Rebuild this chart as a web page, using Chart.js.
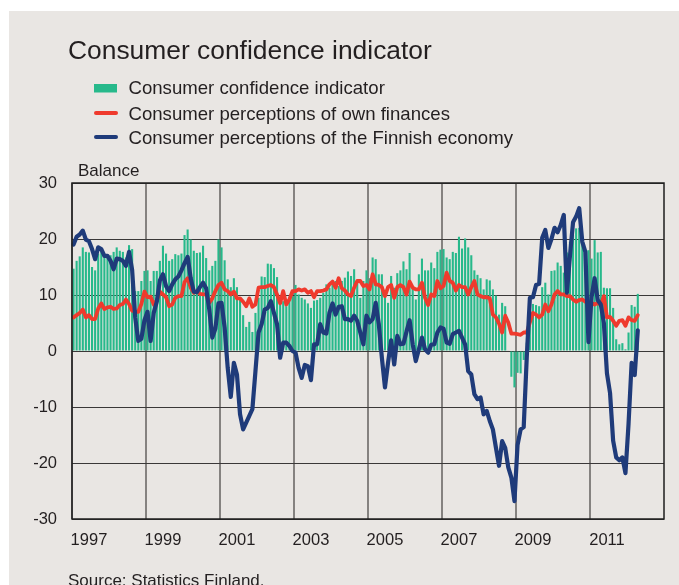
<!DOCTYPE html>
<html><head><meta charset="utf-8">
<script src="https://cdn.jsdelivr.net/npm/chart.js@4.4.1/dist/chart.umd.min.js"></script>
<style>html,body{margin:0;padding:0;background:#fff;}canvas{display:block;}</style>
</head><body>
<canvas id="c" width="679" height="585"></canvas>
<script>
// ---- text ----
const titleText = 'Consumer confidence indicator';
const seriesNames = ['Consumer confidence indicator', 'Consumer perceptions of own finances', 'Consumer perceptions of the Finnish economy'];
const yAxisTitle = 'Balance';
const sourceText = 'Source: Statistics Finland.';

// ---- categories (monthly, Jan 1997 - Dec 2012) ----
const years = [1997,1998,1999,2000,2001,2002,2003,2004,2005,2006,2007,2008,2009,2010,2011,2012];
const monthsPerYear = 12;
const xTickLabels = ['1997','1999','2001','2003','2005','2007','2009','2011'];
const yTicks = [-30,-20,-10,0,10,20,30];

// ---- series (monthly values from Jan 1997) ----
const cci = [
14.7,16.1,16.9,18.5,17.7,17.6,15.0,14.4,17.4,17.9,16.7,16.8,
17.1,17.7,18.5,17.9,17.7,16.7,18.9,18.2,10.7,10.7,12.5,14.3,
14.4,12.5,14.3,14.3,16.1,18.8,17.4,16.1,16.4,17.3,17.1,17.4,
20.7,21.7,19.9,17.9,17.5,17.6,18.8,16.6,14.4,15.2,16.1,19.9,
18.5,16.2,12.8,11.4,13.0,11.4,9.2,6.4,4.3,5.2,3.4,6.8,
9.5,13.3,13.2,15.6,15.5,14.8,13.2,9.5,8.9,8.0,9.2,9.8,
11.8,10.1,9.5,9.2,8.5,7.7,9.0,9.1,9.5,10.4,11.9,11.3,
12.5,12.5,11.6,12.5,13.1,14.2,13.4,14.6,12.7,9.5,12.5,14.4,
13.0,16.7,16.4,13.7,13.7,9.8,8.6,13.4,11.3,13.9,14.4,16.0,
14.6,17.5,11.3,9.2,13.7,16.5,14.4,14.4,15.8,14.8,17.7,18.1,
18.2,16.7,16.4,17.7,17.5,20.4,18.3,20.1,18.5,17.1,14.4,13.6,
13.0,11.0,12.8,12.6,11.0,9.9,6.5,8.6,8.0,0.1,-4.6,-6.5,
-3.9,-4.0,-1.6,1.5,5.0,8.4,8.2,8.0,11.4,12.2,10.1,14.3,
14.4,15.8,15.2,14.0,17.6,19.5,20.8,21.9,22.0,19.6,17.4,18.0,
16.5,19.8,17.6,17.7,11.3,11.2,11.2,7.7,2.1,1.2,1.4,0.3,
3.3,8.2,7.9,10.2];
const ownFinances = [
6.0,6.4,6.8,7.4,6.0,6.4,5.7,5.7,7.6,8.5,7.5,7.8,
7.9,7.5,7.6,8.2,8.4,9.2,8.4,7.2,7.0,7.0,8.4,10.6,
9.6,9.7,8.3,9.0,10.6,10.1,9.6,8.0,8.3,9.5,9.8,9.8,
12.3,13.0,11.3,10.4,10.7,10.2,10.1,10.1,8.6,9.4,10.7,11.8,
12.2,11.0,10.7,10.1,10.6,9.4,9.4,8.8,8.0,9.4,7.9,8.3,
11.3,11.4,11.4,11.6,11.8,11.4,10.1,8.5,10.7,8.3,9.2,10.7,
10.7,11.0,10.8,11.0,10.4,10.7,9.6,10.7,10.7,10.8,11.0,11.9,
12.4,11.3,13.0,11.2,10.8,10.1,9.8,11.3,12.5,12.5,11.6,11.8,
11.0,13.7,11.9,11.8,11.4,9.8,11.4,11.8,9.5,11.4,11.8,11.4,
10.1,12.4,11.3,11.0,11.0,12.2,9.5,8.2,10.1,9.8,12.5,11.2,
11.6,14.0,12.5,12.2,10.8,11.8,11.4,11.4,10.1,11.4,12.5,10.1,
9.8,9.6,9.6,9.4,6.5,6.0,4.9,3.3,6.3,5.1,3.1,3.1,
3.0,2.9,3.3,3.3,5.1,6.8,6.5,6.0,6.5,8.3,7.1,8.3,
10.1,10.7,10.1,10.1,9.8,9.8,9.2,8.8,9.1,9.2,8.8,8.6,
8.6,8.3,8.6,8.2,9.8,6.0,6.1,5.4,4.5,5.4,5.5,4.5,
6.0,5.5,5.4,6.4];
const finnishEconomy = [
19.0,20.4,20.8,21.5,19.9,19.6,18.2,16.4,18.5,18.2,17.0,17.0,
16.1,14.6,16.5,16.4,16.1,15.2,17.7,14.5,6.0,1.8,2.2,5.5,
7.0,1.8,6.8,8.8,12.6,13.7,11.6,10.7,11.9,12.8,13.3,14.4,
15.7,16.8,13.0,10.6,10.5,11.4,12.2,11.2,7.5,2.4,4.0,8.5,
8.6,4.2,-3.0,-8.2,-2.1,-4.2,-11.3,-14.0,-12.8,-11.6,-10.4,-3.6,
3.3,4.8,7.4,7.7,8.9,6.8,4.8,-1.2,1.5,1.5,0.9,0.0,
-0.3,-3.0,-4.8,-2.5,-2.7,-5.2,1.2,1.2,4.8,3.3,3.1,6.8,
8.5,6.5,7.9,8.0,5.7,5.7,5.4,6.3,5.4,3.3,1.2,6.3,
5.1,5.7,8.6,4.8,-1.2,-6.5,-2.1,1.9,-2.4,2.7,1.2,1.3,
3.5,5.5,1.2,-1.8,0.3,2.4,0.3,-0.3,1.1,1.2,3.3,4.2,
4.0,1.5,1.3,3.0,3.3,3.6,2.4,1.2,-3.6,-4.2,-7.7,-8.6,
-8.3,-11.3,-10.7,-12.5,-14.0,-17.3,-20.5,-16.1,-17.3,-20.8,-22.6,-26.8,
-16.8,-14.0,-13.6,-1.0,9.5,9.6,11.8,12.0,20.2,21.6,18.4,20.0,
22.0,21.2,22.5,24.3,10.4,17.0,23.0,24.0,25.5,19.5,17.7,1.6,
9.6,13.0,9.1,8.3,5.0,-4.0,-7.5,-16.0,-19.0,-19.5,-19.0,-21.8,
-13.0,-2.1,-4.3,3.7];

// ---- build category labels ----
const months = [];
years.forEach(y => { for (let m = 1; m <= monthsPerYear; m++) months.push(y + '-' + m); });
const tickByIndex = {};
xTickLabels.forEach(lbl => {
  const idx = (parseInt(lbl, 10) - years[0]) * monthsPerYear + 5;
  tickByIndex[idx] = lbl;
});

const FONT = '"Liberation Sans", Arial, Helvetica, sans-serif';
const TEXT = '#231f20';
const GREEN = '#27b98b', RED = '#ef3a2d', BLUE = '#1f3b7a';
Chart.defaults.font.family = FONT;
Chart.defaults.color = TEXT;

const decor = {
  id: 'decor',
  beforeDraw(chart) {
    const ctx = chart.ctx;
    ctx.save();
    ctx.fillStyle = '#ffffff';
    ctx.fillRect(0, 0, chart.width, chart.height);
    ctx.fillStyle = '#e9e6e3';
    ctx.fillRect(9, 11, chart.width - 9, chart.height - 11);
    ctx.restore();
  },
  afterDraw(chart) {
    const ctx = chart.ctx;
    const a = chart.chartArea;
    ctx.save();
    // frame
    ctx.strokeStyle = '#1e1e1e';
    ctx.lineWidth = 1.5;
    ctx.strokeRect(a.left, a.top, a.right - a.left, a.bottom - a.top);
    // title
    ctx.fillStyle = TEXT;
    ctx.textBaseline = 'alphabetic';
    ctx.textAlign = 'left';
    ctx.font = '26.4px ' + FONT;
    ctx.fillText(titleText, 68, 59);
    // legend
    ctx.font = '18.6px ' + FONT;
    const baselines = [94, 119.5, 144];
    ctx.fillStyle = GREEN;
    ctx.fillRect(94, 84, 23, 8.5);
    ctx.lineCap = 'round';
    ctx.lineWidth = 4;
    ctx.strokeStyle = RED;
    ctx.beginPath(); ctx.moveTo(96, 113); ctx.lineTo(116, 113); ctx.stroke();
    ctx.strokeStyle = BLUE;
    ctx.beginPath(); ctx.moveTo(96, 137); ctx.lineTo(116, 137); ctx.stroke();
    ctx.fillStyle = TEXT;
    seriesNames.forEach((n, i) => ctx.fillText(n, 128.5, baselines[i]));
    // axis title
    ctx.font = '17px ' + FONT;
    ctx.fillText(yAxisTitle, 78, 176);
    // source
    ctx.font = '17px ' + FONT;
    ctx.fillText(sourceText, 68, 586);
    ctx.restore();
  }
};

new Chart(document.getElementById('c'), {
  type: 'bar',
  data: {
    labels: months,
    datasets: [
      { type: 'line', label: seriesNames[2], data: finnishEconomy, borderColor: BLUE, borderWidth: 4.2,
        pointRadius: 0, tension: 0, fill: false, borderJoinStyle: 'round', borderCapStyle: 'round', order: 0 },
      { type: 'line', label: seriesNames[1], data: ownFinances, borderColor: RED, borderWidth: 3.8,
        pointRadius: 0, tension: 0, fill: false, borderJoinStyle: 'round', borderCapStyle: 'round', order: 1 },
      { type: 'bar', label: seriesNames[0], data: cci, backgroundColor: GREEN, borderWidth: 0,
        barPercentage: 0.68, categoryPercentage: 1.0, order: 2 }
    ]
  },
  options: {
    responsive: false,
    devicePixelRatio: 1,
    animation: false,
    layout: { padding: { top: 183, right: 15, bottom: 0, left: 0 } },
    plugins: { legend: { display: false }, title: { display: false }, tooltip: { enabled: false } },
    scales: {
      x: {
        type: 'category',
        offset: true,
        grid: {
          offset: true,
          drawTicks: false,
          lineWidth: 2,
          color: ctx => (ctx.index % 24 === 0 ? '#858280' : 'rgba(0,0,0,0)')
        },
        border: { display: false },
        ticks: {
          autoSkip: false, maxRotation: 0, minRotation: 0, padding: 12,
          font: { size: 16.5 }, color: TEXT,
          callback: (v, i) => tickByIndex[i] || ''
        },
        afterFit: s => { s.height = 66; }
      },
      y: {
        min: yTicks[0], max: yTicks[yTicks.length - 1],
        afterBuildTicks: s => { s.ticks = yTicks.map(v => ({ value: v })); },
        grid: { drawTicks: false, color: '#3a3838', lineWidth: 1 },
        border: { display: false },
        ticks: { padding: 15, font: { size: 16.5 }, color: TEXT },
        afterFit: s => { s.width = 72; }
      }
    }
  },
  plugins: [decor]
});
</script>
</body></html>
